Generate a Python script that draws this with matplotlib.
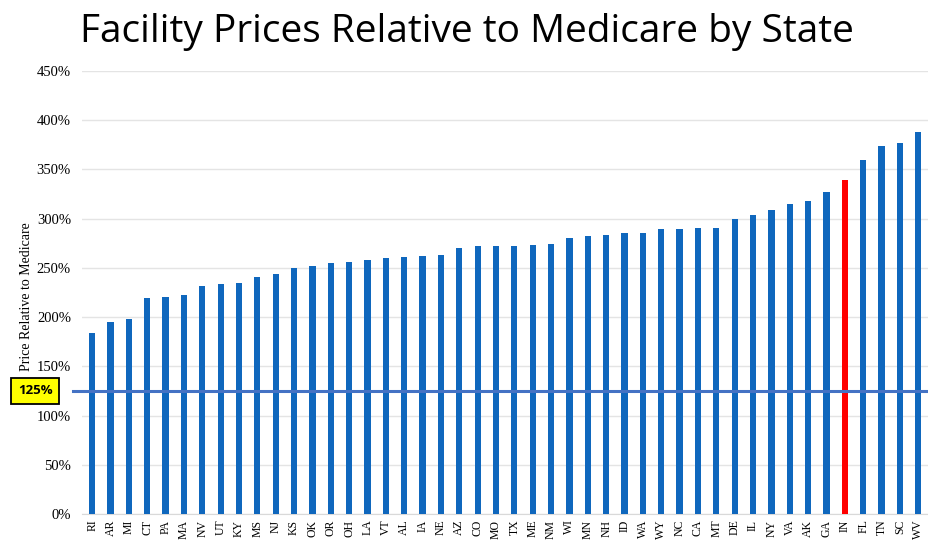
import matplotlib
matplotlib.use("Agg")
import matplotlib.pyplot as plt
import numpy as np

# states in plotted order (sorted by price) and their values (% of Medicare)
STATES = ["RI", "AR", "MI", "CT", "PA", "MA", "NV", "UT", "KY", "MS",
          "NJ", "KS", "OK", "OR", "OH", "LA", "VT", "AL", "IA", "NE",
          "AZ", "CO", "MO", "TX", "ME", "NM", "WI", "MN", "NH", "ID",
          "WA", "WY", "NC", "CA", "MT", "DE", "IL", "NY", "VA", "AK",
          "GA", "IN", "FL", "TN", "SC", "WV"]
PRICES = [184, 195, 198, 219, 220, 222, 232, 234, 235, 241,
          244, 250, 252, 255, 256, 258, 260, 261, 262, 263,
          270, 272, 272, 272, 273, 274, 280, 282, 283, 285,
          285, 289, 289, 290, 291, 300, 304, 309, 315, 318,
          327, 339, 360, 374, 377, 388]
HIGHLIGHT = "IN"
MEDICARE_REF = 125
YTICKS = [0, 50, 100, 150, 200, 250, 300, 350, 400, 450]

BLUE = "#0F67BD"
RED = "#FF0000"

fig = plt.figure(figsize=(9.29, 5.46), dpi=100)
ax = fig.add_axes([0.0883, 0.0586, 0.911, 0.8114])

x = np.arange(len(STATES))
colors = [RED if s == HIGHLIGHT else BLUE for s in STATES]
ax.bar(x, PRICES, width=0.34, color=colors, zorder=3)

ax.set_xlim(-0.55, len(STATES) - 0.45)
ax.set_ylim(0, 450)
ax.set_yticks(YTICKS)
ax.set_yticklabels([f"{v}%" for v in YTICKS], family="Liberation Serif", fontsize=10.5)
ax.set_xticks(x)
ax.set_xticklabels(STATES, rotation=90, family="Liberation Serif", fontsize=8.5)
ax.tick_params(length=0, pad=8)
ax.tick_params(axis="x", pad=4)
ax.grid(axis="y", color="#e4e4e4", lw=1, zorder=0)
for sp in ["top", "right", "left"]:
    ax.spines[sp].set_visible(False)
ax.spines["bottom"].set_color("#d9d9d9")

ax.set_ylabel("Price Relative to Medicare", family="Liberation Serif", fontsize=10)
ax.yaxis.set_label_coords(-0.058, 0.49)

# 125% reference line, reaching a little left of the plot area
ax.axhline(MEDICARE_REF, xmin=-0.011, xmax=1.0, color="#4472C4", lw=2.2, zorder=4, clip_on=False)
ax.text(-0.0555, MEDICARE_REF, f"{MEDICARE_REF}%", transform=ax.get_yaxis_transform(),
        ha="center", va="center", fontsize=9.5, fontweight="bold", family="Open Sans",
        bbox=dict(boxstyle="square,pad=0.5", fc="#FFFF00", ec="black", lw=1.3))

fig.text(0.503, 0.942, "Facility Prices Relative to Medicare by State",
         ha="center", va="center", fontsize=28, family="Open Sans")

fig.savefig("out.png", dpi=100)
